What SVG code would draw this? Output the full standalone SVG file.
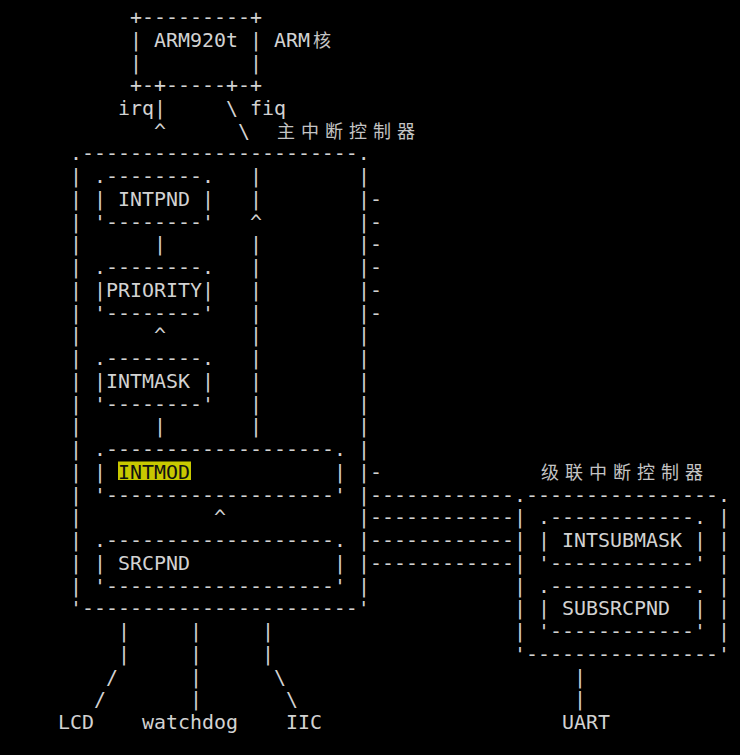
<svg xmlns="http://www.w3.org/2000/svg" width="740" height="755" viewBox="0 0 740 755" xml:space="preserve">
<style>
text{font-family:"DejaVu Sans Mono","Liberation Mono",monospace;font-size:19.93px;fill:#d2d2d2;white-space:pre}
text.cjk{font-family:"Noto Sans CJK SC","Noto Sans CJK JP",sans-serif;font-size:18px;fill:#c4c4c4;text-anchor:middle}
text.hl{fill:#101010}
rect.hl{fill:#c8c800}
</style>
<rect width="740" height="755" fill="#000"/>
<g id="arm920t">
<text x="130" y="24">+---------+</text>
<text x="130" y="46.7">| ARM920t |</text>
<text x="130" y="69.5">|         |</text>
<text x="130" y="92.2">+-+-----+-+</text>
<text x="274" y="46.7">ARM</text>
<text class="cjk" x="322" y="46.7">核</text>
</g>
<g id="main-controller">
<text class="cjk" x="286 310 334 358 382 406" y="137.7">主中断控制器</text>
<text x="70" y="160.4">.-----------------------.</text>
<text><tspan x="70" y="183.2">|</tspan><tspan x="70" y="205.9">|</tspan><tspan x="70" y="228.7">|</tspan><tspan x="70" y="251.4">|</tspan><tspan x="70" y="274.1">|</tspan><tspan x="70" y="296.9">|</tspan><tspan x="70" y="319.6">|</tspan><tspan x="70" y="342.4">|</tspan><tspan x="70" y="365.1">|</tspan><tspan x="70" y="387.8">|</tspan><tspan x="70" y="410.6">|</tspan><tspan x="70" y="433.3">|</tspan><tspan x="70" y="456.1">|</tspan><tspan x="70" y="478.8">|</tspan><tspan x="70" y="501.5">|</tspan><tspan x="70" y="524.3">|</tspan><tspan x="70" y="547">|</tspan><tspan x="70" y="569.8">|</tspan><tspan x="70" y="592.5">|</tspan></text>
<text><tspan x="358" y="183.2">|</tspan><tspan x="358" y="205.9">|</tspan><tspan x="358" y="228.7">|</tspan><tspan x="358" y="251.4">|</tspan><tspan x="358" y="274.1">|</tspan><tspan x="358" y="296.9">|</tspan><tspan x="358" y="319.6">|</tspan><tspan x="358" y="342.4">|</tspan><tspan x="358" y="365.1">|</tspan><tspan x="358" y="387.8">|</tspan><tspan x="358" y="410.6">|</tspan><tspan x="358" y="433.3">|</tspan><tspan x="358" y="456.1">|</tspan><tspan x="358" y="478.8">|</tspan><tspan x="358" y="501.5">|</tspan><tspan x="358" y="524.3">|</tspan><tspan x="358" y="547">|</tspan><tspan x="358" y="569.8">|</tspan><tspan x="358" y="592.5">|</tspan></text>
<text x="70" y="615.2">'-----------------------'</text>
</g>
<g id="intpnd">
<text x="94" y="183.2">.--------.</text>
<text x="94" y="205.9">| INTPND |</text>
<text x="94" y="228.7">'--------'</text>
</g>
<g id="priority">
<text x="94" y="274.1">.--------.</text>
<text x="94" y="296.9">|PRIORITY|</text>
<text x="94" y="319.6">'--------'</text>
</g>
<g id="intmask">
<text x="94" y="365.1">.--------.</text>
<text x="94" y="387.8">|INTMASK |</text>
<text x="94" y="410.6">'--------'</text>
</g>
<g id="intmod">
<text x="94" y="456.1">.-------------------.</text>
<text x="94" y="478.8">|</text>
<rect class="hl" x="118" y="461.5" width="73" height="18.5"/>
<text class="hl" x="118" y="478.8">INTMOD</text>
<text x="334" y="478.8">|</text>
<text x="94" y="501.5">'-------------------'</text>
</g>
<g id="srcpnd">
<text x="94" y="547">.-------------------.</text>
<text x="94" y="569.8">| SRCPND</text>
<text x="334" y="569.8">|</text>
<text x="94" y="592.5">'-------------------'</text>
</g>
<g id="sub-controller">
<text class="cjk" x="550 574 598 622 646 670 694" y="478.8">级联中断控制器</text>
<text x="514" y="501.5">.----------------.</text>
<text><tspan x="514" y="524.3">|</tspan><tspan x="514" y="547">|</tspan><tspan x="514" y="569.8">|</tspan><tspan x="514" y="592.5">|</tspan><tspan x="514" y="615.2">|</tspan><tspan x="514" y="638">|</tspan></text>
<text><tspan x="718" y="524.3">|</tspan><tspan x="718" y="547">|</tspan><tspan x="718" y="569.8">|</tspan><tspan x="718" y="592.5">|</tspan><tspan x="718" y="615.2">|</tspan><tspan x="718" y="638">|</tspan></text>
<text x="514" y="660.7">'----------------'</text>
</g>
<g id="intsubmask">
<text x="538" y="524.3">.------------.</text>
<text x="538" y="547">| INTSUBMASK |</text>
<text x="538" y="569.8">'------------'</text>
</g>
<g id="subsrcpnd">
<text x="538" y="592.5">.------------.</text>
<text x="538" y="615.2">| SUBSRCPND  |</text>
<text x="538" y="638">'------------'</text>
</g>
<g id="lcd"><text x="58" y="728.9">LCD</text></g>
<g id="watchdog"><text x="142" y="728.9">watchdog</text></g>
<g id="iic"><text x="286" y="728.9">IIC</text></g>
<g id="uart"><text x="562" y="728.9">UART</text></g>
<g id="connectors">
<text x="118" y="115">irq|     \ fiq</text>
<text x="154" y="137.7">^      \</text>
<text><tspan x="250" y="183.2">|</tspan><tspan x="250" y="205.9">|</tspan><tspan x="250" y="228.7">^</tspan><tspan x="250" y="251.4">|</tspan><tspan x="250" y="274.1">|</tspan><tspan x="250" y="296.9">|</tspan><tspan x="250" y="319.6">|</tspan><tspan x="250" y="342.4">|</tspan><tspan x="250" y="365.1">|</tspan><tspan x="250" y="387.8">|</tspan><tspan x="250" y="410.6">|</tspan><tspan x="250" y="433.3">|</tspan></text>
<text><tspan x="154" y="251.4">|</tspan><tspan x="154" y="342.4">^</tspan><tspan x="154" y="433.3">|</tspan><tspan x="214" y="524.3">^</tspan></text>
<text><tspan x="370" y="205.9">-</tspan><tspan x="370" y="228.7">-</tspan><tspan x="370" y="251.4">-</tspan><tspan x="370" y="274.1">-</tspan><tspan x="370" y="296.9">-</tspan><tspan x="370" y="319.6">-</tspan><tspan x="370" y="478.8">-</tspan></text>
<text><tspan x="370" y="501.5">------------</tspan><tspan x="370" y="524.3">------------</tspan><tspan x="370" y="547">------------</tspan><tspan x="370" y="569.8">------------</tspan></text>
<text><tspan x="118" y="638">|</tspan><tspan x="190" y="638">|</tspan><tspan x="262" y="638">|</tspan><tspan x="118" y="660.7">|</tspan><tspan x="190" y="660.7">|</tspan><tspan x="262" y="660.7">|</tspan></text>
<text><tspan x="106" y="683.5">/</tspan><tspan x="190" y="683.5">|</tspan><tspan x="274" y="683.5">\</tspan><tspan x="94" y="706.2">/</tspan><tspan x="190" y="706.2">|</tspan><tspan x="286" y="706.2">\</tspan></text>
<text><tspan x="574" y="683.5">|</tspan><tspan x="574" y="706.2">|</tspan></text>
</g>
</svg>
